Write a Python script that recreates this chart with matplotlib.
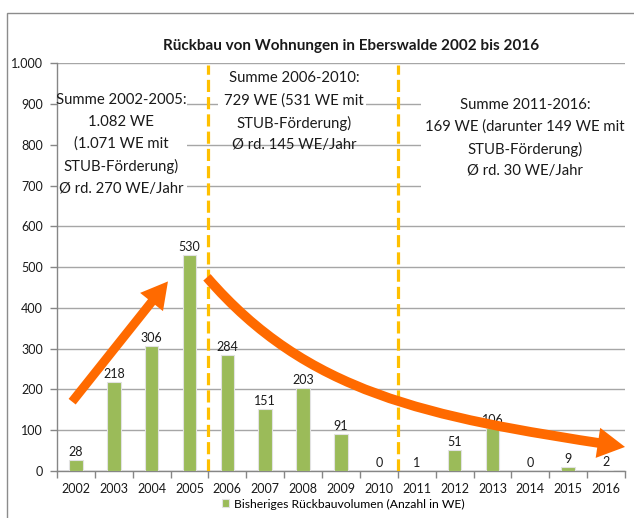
import matplotlib
matplotlib.use("Agg")
import matplotlib.pyplot as plt
from matplotlib.patches import FancyArrowPatch, Rectangle
from matplotlib.path import Path
import numpy as np

# ---- data ----
years = ["2002", "2003", "2004", "2005", "2006", "2007", "2008", "2009",
         "2010", "2011", "2012", "2013", "2014", "2015", "2016"]
values = [28, 218, 306, 530, 284, 151, 203, 91, 0, 1, 51, 106, 0, 9, 2]
y_ticks = [0, 100, 200, 300, 400, 500, 600, 700, 800, 900, 1000]
y_tick_labels = ["0", "100", "200", "300", "400", "500", "600", "700",
                 "800", "900", "1.000"]
title = "Rückbau von Wohnungen in Eberswalde 2002 bis 2016"
legend_label = "Bisheriges Rückbauvolumen (Anzahl in WE)"
note_left = "Summe 2002-2005:\n1.082 WE\n(1.071 WE mit\nSTUB-Förderung)\nØ rd. 270 WE/Jahr"
note_mid = "Summe 2006-2010:\n729 WE (531 WE mit\nSTUB-Förderung)\nØ rd. 145 WE/Jahr"
note_right = "Summe 2011-2016:\n169 WE (darunter 149 WE mit\nSTUB-Förderung)\nØ rd. 30 WE/Jahr"
period_breaks = [3.5, 8.5]

plt.rcParams["font.family"] = ["Lato", "DejaVu Sans"]

W, H = 634, 518
fig = plt.figure(figsize=(W / 100, H / 100), dpi=100)
ax = fig.add_axes([57 / W, 1 - 471 / H, 568 / W, (471 - 63.3) / H])

x = np.arange(len(years))
bars = ax.bar(x, values, width=0.36, color="#9BBB59", edgecolor="#e2e2e2",
              linewidth=0.8, zorder=3, label=legend_label)
ax.bar_label(bars, labels=[str(v) for v in values], padding=1.5,
             fontsize=9, color="#1a1a1a", zorder=4)

ax.set_xlim(-0.5, len(years) - 0.5)
ax.set_ylim(0, 1000)
ax.set_yticks(y_ticks)
ax.set_yticklabels(y_tick_labels)
ax.set_xticks(x)
ax.set_xticklabels(years)
ax.set_xticks(np.arange(-0.5, len(years)), minor=True)
ax.tick_params(axis="x", which="major", length=0, pad=8.5, labelsize=9,
               labelcolor="#1a1a1a")
ax.tick_params(axis="x", which="minor", length=5, color="#868686", width=1)
ax.tick_params(axis="y", length=5, color="#868686", width=1, labelsize=9,
               pad=5, labelcolor="#1a1a1a")
ax.grid(axis="y", color="#A6A6A6", lw=1)
ax.set_axisbelow(True)
for s in ["top", "right"]:
    ax.spines[s].set_visible(False)
for s in ["left", "bottom"]:
    ax.spines[s].set_color("#868686")
    ax.spines[s].set_linewidth(1)

# period separators
for xb in period_breaks:
    ax.axvline(xb, ymin=0, ymax=0.995, color="#FFC000", lw=2.3,
               ls=(0, (3.8, 1.6)), zorder=5)

# white text boxes
ax.add_patch(Rectangle((-0.5, 676), 3.43, 249, facecolor="white",
                       edgecolor="none", zorder=1))
ax.add_patch(Rectangle((3.75, 830), 3.91, 160, facecolor="white",
                       edgecolor="none", zorder=1))
ax.add_patch(Rectangle((9.11, 666), 5.39, 266, facecolor="white",
                       edgecolor="none", zorder=1))

txt_kw = dict(ha="center", va="center", multialignment="center",
              fontsize=10.7, linespacing=1.68, color="#1a1a1a", zorder=6)
ax.text(1.19, 801, note_left, **txt_kw)
ax.text(5.76, 881, note_mid, **txt_kw)
ax.text(11.86, 817, note_right, **txt_kw)

# orange arrows
orange = "#FF6A00"
a1 = FancyArrowPatch(posA=(-0.10, 170), posB=(2.43, 465),
                     arrowstyle="-|>,head_length=9,head_width=5",
                     mutation_scale=1, color=orange, lw=6.5,
                     shrinkA=0, shrinkB=0, joinstyle="miter",
                     capstyle="butt", zorder=7, clip_on=False)
ax.add_patch(a1)
curve = Path([(3.46, 475), (6.10, 192), (9.22, 133), (14.50, 59)],
             [Path.MOVETO, Path.CURVE4, Path.CURVE4, Path.CURVE4])
a2 = FancyArrowPatch(path=curve,
                     arrowstyle="-|>,head_length=9,head_width=5",
                     mutation_scale=1, color=orange, lw=7,
                     joinstyle="miter", capstyle="butt", zorder=7,
                     clip_on=False)
ax.add_patch(a2)

# title
fig.text(351 / W, 1 - 46 / H, title, ha="center", va="center",
         fontsize=11, fontweight="bold", color="#1a1a1a")

# legend
fig.legend(handles=[bars], labels=[legend_label], loc="center",
           bbox_to_anchor=(343 / W, 1 - 504 / H), frameon=False,
           fontsize=8.7, handlelength=0.6, handleheight=0.6,
           handletextpad=0.4, borderpad=0, borderaxespad=0)

# outer chart frame
fig.patches.append(Rectangle((7 / W, -0.1), 1.2, 1 - 13 / H + 0.1,
                             transform=fig.transFigure, fill=False,
                             edgecolor="#8c8c8c", lw=1))

fig.savefig("out.png", dpi=100)
